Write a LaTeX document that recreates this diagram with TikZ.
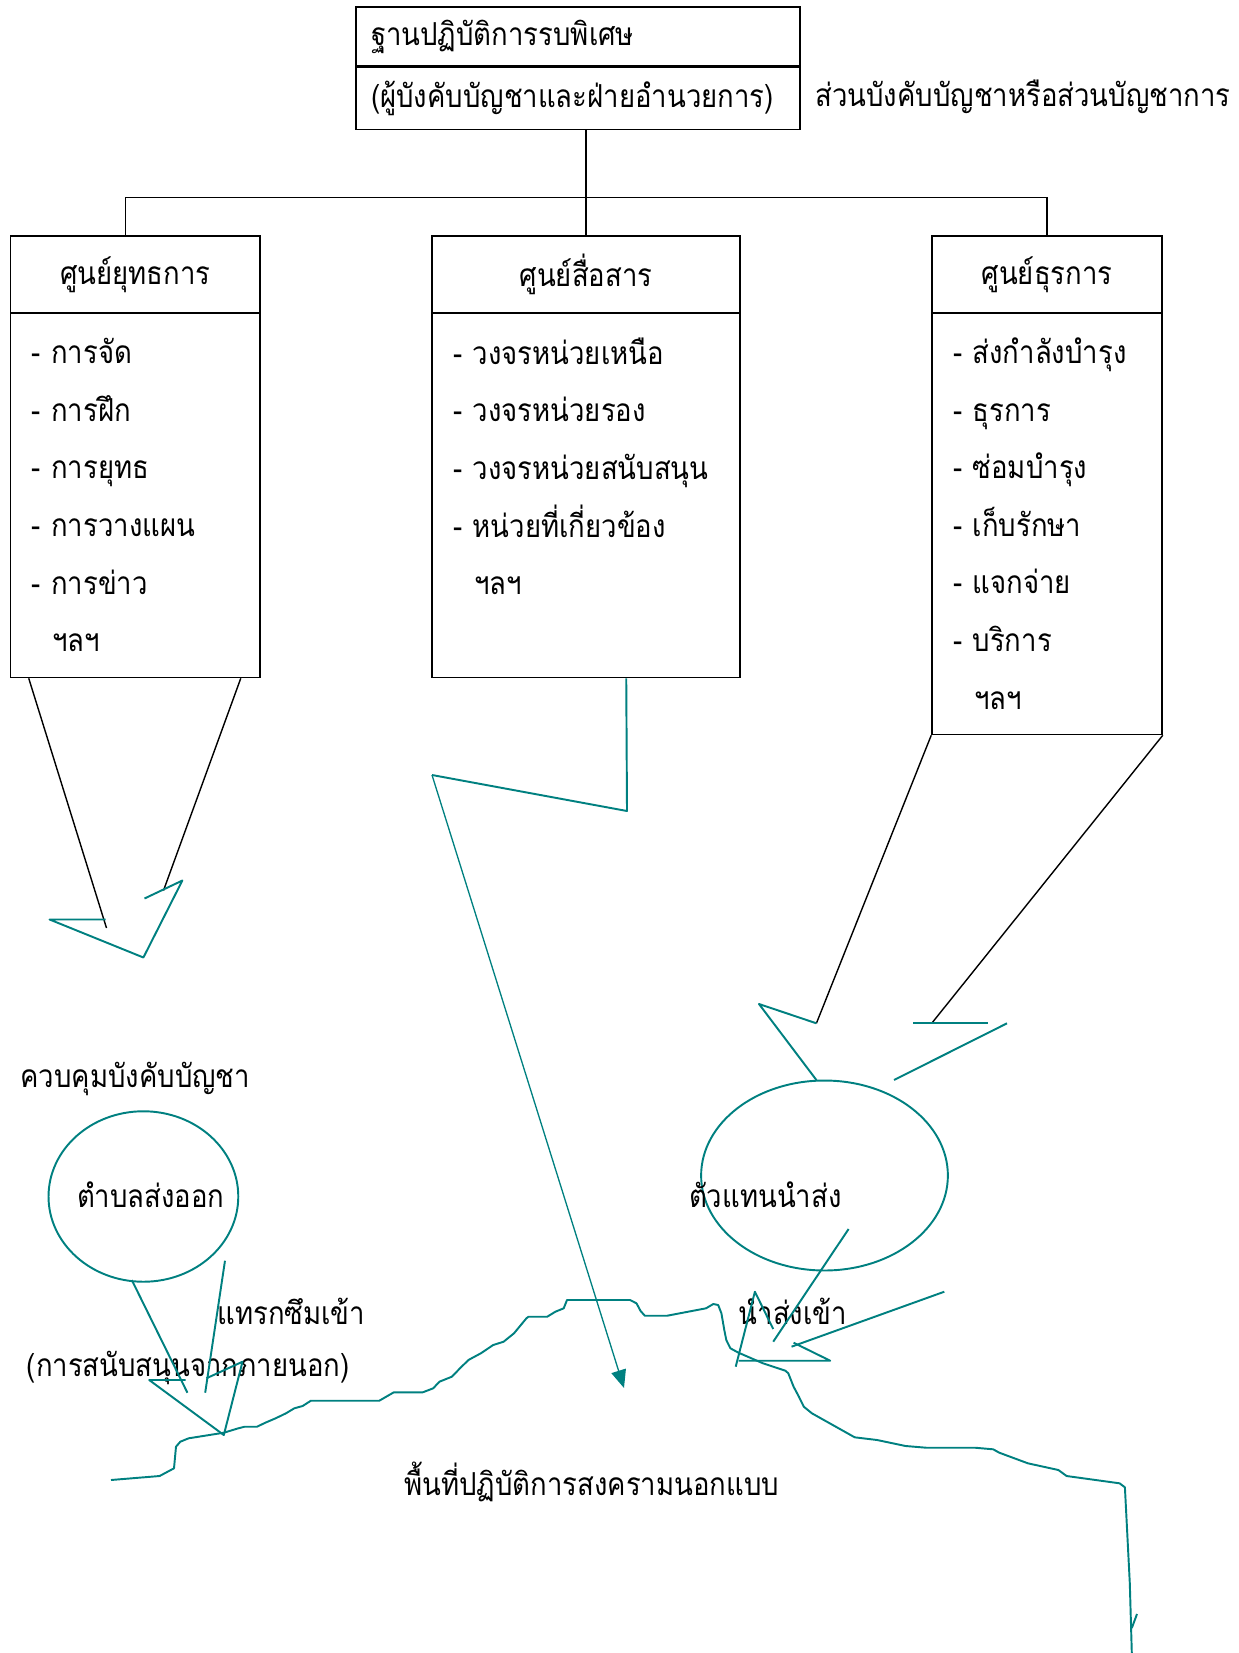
\documentclass[tikz,border=0pt]{standalone}
\usepackage{fontspec}
\usepackage{tikz}
\usetikzlibrary{calc}
\usetikzlibrary{shapes}
\usetikzlibrary{arrows.meta}
\newfontfamily\thaifont[Script=Thai,FakeStretch=0.87]{Loma}
\tikzset{thai text/.style={font={\thaifont\fontsize{18}{32.8}\selectfont}},
box head/.style={draw, line width=0.9pt, thai text, inner sep=0pt},
box body/.style={draw, line width=0.9pt, thai text, align=left, inner xsep=0.42cm, inner ysep=0pt},
teal line/.style={teal, line width=1.1pt, line join=round},
black line/.style={black, line width=0.8pt}}

\begin{document}
\begin{tikzpicture}[x=0.02cm,y=-0.02cm]
\useasboundingbox (0,0) rectangle (1239,1653);
\node[box head, minimum width=8.88cm,minimum height=1.18cm, text width=8.28cm, align=left, inner xsep=0.3cm] (A1) at (578,36.5) {ฐานปฏิบัติการรบพิเศษ};
\node[box head, minimum width=8.88cm,minimum height=1.24cm, text width=8.28cm, align=left, inner xsep=0.3cm, anchor=north] (A2) at (A1.south) {(ผู้บังคับบัญชาและฝ่ายอำนวยการ)};
\node[thai text, anchor=west, inner sep=0pt] (A3) at (815,97) {ส่วนบังคับบัญชาหรือส่วนบัญชาการ};

\node[box head, minimum width=4.99cm,minimum height=1.54cm] (B) at (135.25,274.5) {ศูนย์ยุทธการ};
\node[box body, text width=4.15cm, minimum height=7.3cm, anchor=north, yshift=0.04cm] (B1) at (B.south)
{- การจัด\\- การฝึก\\- การยุทธ\\- การวางแผน\\- การข่าว\\\hspace*{0.42cm}ฯลฯ};
\node[box head, minimum width=6.16cm,minimum height=1.54cm] (C) at (586,274.5) {ศูนย์สื่อสาร};
\node[box body, text width=5.32cm, minimum height=7.3cm, anchor=north, yshift=0.04cm] (C1) at (C.south)
{- วงจรหน่วยเหนือ\\- วงจรหน่วยรอง\\- วงจรหน่วยสนับสนุน\\- หน่วยที่เกี่ยวข้อง\\\hspace*{0.42cm}ฯลฯ\\\mbox{}};
\node[box head, minimum width=4.6cm,minimum height=1.54cm] (D) at (1047,274.5) {ศูนย์ธุรการ};
\node[box body, text width=3.76cm, minimum height=8.44cm, anchor=north, yshift=0.04cm] (D1) at (D.south)
{- ส่งกำลังบำรุง\\- ธุรการ\\- ซ่อมบำรุง\\- เก็บรักษา\\- แจกจ่าย\\- บริการ\\\hspace*{0.42cm}ฯลฯ};

\draw[black line] (C.north |- A2.south) -- (C.north);
\draw[black line] ($(B.north west)!0.46!(B.north east)$) -- ++(0,-38) -| (D.north);

\coordinate (b1) at (106.5,928);
\coordinate (b2) at (163.5,890.5);
\draw[black line] ($(B1.south west)+(19,0)$) -- (b1);
\draw[black line] ($(B1.south east)+(-20,0)$) -- (b2);
\draw[teal line] (144.5,898.5) -- (182.4,880.5) -- (143.4,957.5) -- (49.6,919.5) -- (105.7,919.5);

\coordinate (c1) at (627,811);
\coordinate (c2) at (432,775);
\coordinate (c3) at (624,1388);
\draw[teal line] ($(C1.south west)+(195,0)$) -- (c1) -- (c2);
\draw[teal, line width=0.75pt, -{Triangle[length=0.36cm,width=0.3cm]}] (c2) -- (c3);

\coordinate (d1) at (816.4,1023.3);
\coordinate (d2) at (931.7,1023.3);
\draw[black line] (D1.south west) -- (d1);
\draw[black line] (D1.south east) -- (d2);
\draw[teal line] (d1) -- (759,1004) -- (816.4,1080);
\draw[teal line] (913,1023.3) -- (988,1023.3);
\draw[teal line] (1007,1023.3) -- (894,1080);

\node[thai text, anchor=west, inner sep=0pt] (H) at (20,1079) {ควบคุมบังคับบัญชา};
\node[ellipse, draw=teal, line width=1.1pt, minimum width=3.796cm, minimum height=3.41cm, inner sep=0pt] (E) at (143.4,1196.5) {};
\node[thai text, anchor=west, inner sep=0pt] (E1) at (76.7,1195) {ตำบลส่งออก};
\node[thai text, anchor=west, inner sep=0pt] (I) at (217,1311) {แทรกซึมเข้า};
\node[thai text, anchor=west, inner sep=0pt] (J) at (26.5,1368) {(การสนับสนุนจากภายนอก)};
\draw[teal line] (131.8,1280) -- (187.4,1392.7);
\draw[teal line] (225,1260.7) -- (205.2,1392.7);
\draw[teal line] (185.7,1380) -- (149.2,1380) -- (223.8,1435) -- (242.5,1361.7) -- (206.4,1378.3);

\node[ellipse, draw=teal, line width=1.1pt, minimum width=4.936cm, minimum height=3.8cm, inner sep=0pt] (F) at (824.5,1175.5) {};
\node[thai text, anchor=west, inner sep=0pt] (G) at (688.7,1195) {ตัวแทนนำส่ง};
\node[thai text, anchor=west, inner sep=0pt] (K) at (738.5,1311) {นำส่งเข้า};
\draw[teal line] (848.6,1229) -- (773.2,1341.7);
\draw[teal line] (735.7,1366.7) -- (754.9,1291.7) -- (773.2,1329);
\draw[teal line] (944.3,1291.7) -- (791.5,1346.7);
\draw[teal line] (793.6,1342.7) -- (830.2,1360.7) -- (738.5,1360.7);

\draw[teal line] (111,1480) -- (159.6,1476) -- (174,1468.3) -- (176,1446.7) -- (180.3,1441.7) -- (188.6,1438.3) -- (223.8,1432.7) -- (238.3,1428.3) -- (244.6,1426.7) -- (257,1426.7) -- (265.3,1422.7) -- (275.6,1418.3) -- (286,1413.3) -- (294.3,1408.3) -- (302.6,1406) -- (310.9,1400.7) -- (379.3,1400.7) -- (393.8,1392.3) -- (422.8,1392.3) -- (433.2,1388.3) -- (439.4,1381.7) -- (451.8,1376.7) -- (460,1368.3) -- (468.4,1360) -- (480.8,1353.3) -- (493.2,1345) -- (503.6,1341.7) -- (514,1333.3) -- (526.4,1318.3) -- (528.5,1316.7) -- (547.2,1316.7) -- (555.4,1311.7) -- (563.7,1308.3) -- (567,1300) -- (630,1300) -- (636.5,1303.3) -- (640.6,1311) -- (644.8,1315.7) -- (667.2,1315.7) -- (706,1308.3) -- (713.3,1304) -- (718.2,1305) -- (721.4,1313.3) -- (724.3,1330) -- (726.3,1340) -- (730.4,1348.3) -- (738.5,1352.7) -- (763,1363.3) -- (785.4,1370.7) -- (788.3,1373.3) -- (793.6,1386.7) -- (798.9,1396.7) -- (803.8,1406.7) -- (811.9,1413.3) -- (854.7,1437.3) -- (877.1,1440) -- (905.6,1446) -- (926,1447.7) -- (974.9,1447.7) -- (993.2,1449.3) -- (999.3,1452.7) -- (1027.9,1463.3) -- (1058.4,1470) -- (1066.6,1476) -- (1119.6,1483.3) -- (1124.9,1487.3) -- (1129.8,1583.3) -- (1131.8,1653);
\draw[teal line] (1131.8,1628) -- (1137,1614);

\node[thai text, anchor=west, inner sep=0pt] (L) at (404,1482) {พื้นที่ปฏิบัติการสงครามนอกแบบ};
\end{tikzpicture}
\end{document}
